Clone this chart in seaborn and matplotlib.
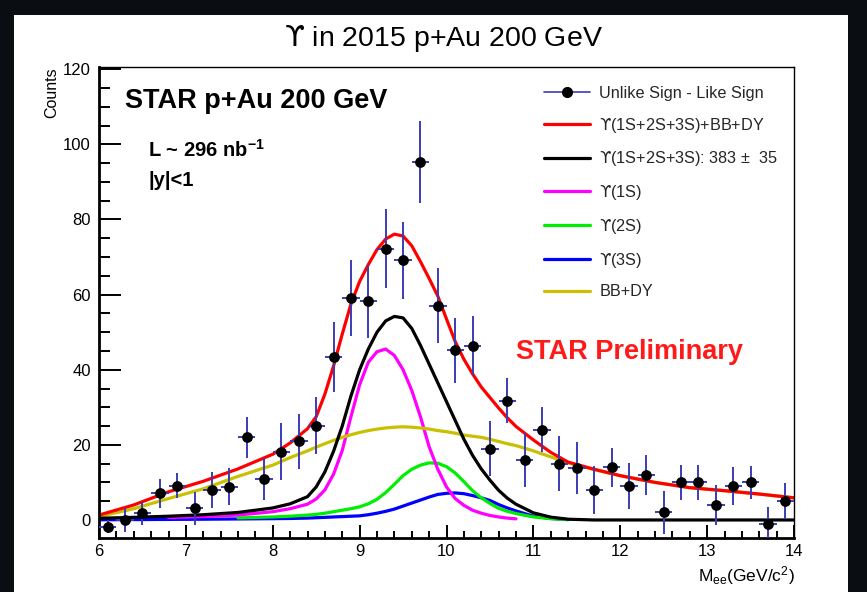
import matplotlib
matplotlib.use("Agg")
import matplotlib.pyplot as plt
from matplotlib.lines import Line2D
from matplotlib.patches import Rectangle
from matplotlib.ticker import MultipleLocator
import pandas as pd
import seaborn as sns

# bin centres (GeV/c^2) and unlike-sign minus like-sign counts
mass_bins = [6.1, 6.3, 6.5, 6.7, 6.9, 7.1, 7.3, 7.5, 7.7, 7.9,
             8.1, 8.3, 8.5, 8.7, 8.9, 9.1, 9.3, 9.5, 9.7, 9.9,
             10.1, 10.3, 10.5, 10.7, 10.9, 11.1, 11.3, 11.5, 11.7, 11.9,
             12.1, 12.3, 12.5, 12.7, 12.9, 13.1, 13.3, 13.5, 13.7, 13.9]
counts = [-1.8, 0.0, 1.8, 7.1, 9.1, 3.1, 8.0, 8.9, 22.0, 11.0,
          18.2, 20.9, 25.1, 43.4, 59.1, 58.2, 72.2, 69.1, 95.4, 57.1,
          45.2, 46.4, 19.0, 31.7, 16.0, 24.0, 15.0, 13.9, 8.0, 14.0,
          9.0, 12.0, 2.0, 10.0, 10.0, 4.0, 9.0, 10.0, -1.0, 5.0]
count_err = [1.8, 3.3, 3.1, 3.9, 3.3, 4.4, 4.7, 4.9, 5.5, 5.6,
             7.6, 7.3, 7.6, 9.2, 10.2, 9.7, 10.5, 10.2, 10.9, 10.0,
             8.7, 7.8, 7.3, 6.0, 7.1, 6.0, 7.4, 6.9, 6.4, 5.1,
             6.2, 5.3, 5.8, 4.6, 4.6, 5.3, 5.0, 4.3, 4.5, 4.8]
bin_half = 0.1

# fit curves
fit_x = [6.0, 6.4, 6.8, 7.2, 7.6, 8.0, 8.2, 8.4,
         8.5, 8.6, 8.7, 8.8, 8.9, 9.0, 9.1, 9.2, 9.3, 9.4, 9.5, 9.6,
         9.7, 9.8, 9.9, 10.0, 10.1, 10.2, 10.3, 10.4, 10.5, 10.6, 10.7, 10.8,
         11.0, 11.2, 11.4, 11.7, 12.0, 12.4, 12.8, 13.2, 13.6, 14.0]
fit_total = [1.3, 4.0, 7.5, 10.3, 13.6, 17.5, 20.5, 24.3,
             27.5, 33.5, 41.0, 49.5, 57.5, 63.5, 68.0, 72.0, 74.8, 76.1, 75.6, 73.0,
             68.8, 64.3, 59.6, 53.5, 47.5, 42.8, 38.9, 35.4, 32.6, 29.8, 27.2, 24.9,
             21.3, 18.0, 15.4, 13.5, 11.8, 10.0, 8.6, 7.8, 6.9, 5.9]
fit_signal = [0.45, 0.7, 1.0, 1.4, 2.0, 3.2, 4.3, 6.2,
              8.8, 12.8, 18.3, 25.0, 33.0, 40.0, 45.5, 50.0, 53.0, 54.2, 53.8, 51.0,
              46.5, 41.5, 36.5, 31.5, 26.5, 21.5, 17.2, 13.6, 10.6, 7.9, 5.8, 4.2,
              1.9, 0.75, 0.2, 0.0, 0.0, 0.0, 0.0, 0.0, 0.0, 0.0]
fit_bbdy = [0.9, 3.0, 5.7, 8.3, 11.6, 14.6, 16.6, 18.4,
            19.4, 20.3, 21.2, 22.0, 22.7, 23.3, 23.8, 24.2, 24.5, 24.7, 24.8, 24.7,
            24.5, 24.2, 23.8, 23.5, 23.1, 22.6, 22.3, 22.0, 21.5, 20.9, 20.3, 19.8,
            18.4, 16.8, 15.2, 13.4, 11.8, 10.0, 8.6, 7.8, 6.9, 5.9]
x_1s = fit_x[2:32]
fit_1s = [0.65, 0.9, 1.3, 2.2, 3.0, 4.2,
          5.6, 8.0, 12.2, 18.5, 27.5, 36.0, 42.0, 44.8, 45.5, 43.8, 40.0, 34.5,
          27.5, 19.5, 13.5, 8.8, 5.7, 3.9, 2.6, 1.8, 1.2, 0.8, 0.5, 0.3]
x_2s = fit_x[4:35]
fit_2s = [0.55, 0.8, 1.0, 1.3,
          1.5, 1.8, 2.2, 2.6, 3.0, 3.5, 4.3, 5.5, 7.3, 9.5, 11.8, 13.5,
          14.6, 15.2, 15.1, 14.2, 12.5, 10.2, 7.8, 5.9, 4.4, 3.1, 2.3, 1.7,
          0.8, 0.35, 0.1]
x_3s = fit_x[0:35]
fit_3s = [0.05, 0.1, 0.15, 0.2, 0.27, 0.35, 0.4, 0.5,
          0.6, 0.7, 0.8, 0.9, 1.0, 1.1, 1.4, 1.8, 2.3, 2.9, 3.7, 4.5,
          5.3, 6.1, 6.8, 7.1, 7.2, 7.0, 6.5, 5.9, 5.2, 4.1, 3.2, 2.4,
          1.0, 0.4, 0.1]

UPS = '$\\mathsf{\u03d2}$'
labels = ["Unlike Sign - Like Sign",
          UPS + "(1S+2S+3S)+BB+DY",
          UPS + "(1S+2S+3S): 383 \u00b1  35",
          UPS + "(1S)",
          UPS + "(2S)",
          UPS + "(3S)",
          "BB+DY"]

sns.set_theme(style="white")
plt.rcParams['font.family'] = ['Liberation Sans', 'DejaVu Sans']
plt.rcParams['mathtext.fontset'] = 'custom'
plt.rcParams['mathtext.rm'] = 'Liberation Sans'
plt.rcParams['mathtext.it'] = 'Liberation Sans:italic'
plt.rcParams['mathtext.bf'] = 'Liberation Sans:bold'
plt.rcParams['mathtext.sf'] = 'DejaVu Sans'

W, H = 867, 592


def fx(px):
    return px / W


def fy(py):
    return 1 - py / H


fig = plt.figure(figsize=(W / 100, H / 100), dpi=100, facecolor='#0a0d12')
fig.patches.append(Rectangle((fx(14), 0), fx(848) - fx(14), fy(15),
                             transform=fig.transFigure, facecolor='white',
                             edgecolor='none', zorder=-10))
ax = fig.add_axes([fx(99), fy(538), fx(794) - fx(99), fy(67) - fy(538)])
ax.set_zorder(2)
ax.set_facecolor('white')

curves = [
    (x_3s, fit_3s, '#0000ff'),
    (x_2s, fit_2s, '#00ee00'),
    (x_1s, fit_1s, '#ff00ff'),
    (fit_x, fit_bbdy, '#c8c000'),
    (fit_x, fit_signal, 'black'),
    (fit_x, fit_total, '#ff0000'),
]
for xs, ys, col in curves:
    df = pd.DataFrame({'mass': xs, 'val': ys})
    sns.lineplot(data=df, x='mass', y='val', color=col, linewidth=2.3,
                 estimator=None, ax=ax, zorder=2)

err_col = '#3b3bb5'
ax.errorbar(mass_bins, counts, yerr=count_err, xerr=bin_half, fmt='none',
            ecolor=err_col, elinewidth=1.4, capsize=0, zorder=3)
pts = pd.DataFrame({'mass': mass_bins, 'counts': counts})
sns.scatterplot(data=pts, x='mass', y='counts', color='black', s=60,
                linewidth=0, ax=ax, zorder=4)

ax.set_xlim(6, 14)
ax.set_ylim(-4.8, 120.6)
ax.set_xlabel('')
ax.set_ylabel('')
ax.xaxis.set_major_locator(MultipleLocator(1))
ax.xaxis.set_minor_locator(MultipleLocator(0.2))
ax.yaxis.set_major_locator(MultipleLocator(20))
ax.yaxis.set_minor_locator(MultipleLocator(5))
ax.tick_params(axis='both', which='both', direction='in', top=False,
               right=False, bottom=True, left=True, colors='black',
               labelsize=12, width=1.4)
ax.tick_params(axis='y', which='major', length=16, pad=6)
ax.tick_params(axis='y', which='minor', length=8)
ax.tick_params(axis='x', which='major', length=9.5, pad=4)
ax.tick_params(axis='x', which='minor', length=5)
for side in ['left', 'bottom']:
    ax.spines[side].set_linewidth(2.0)
    ax.spines[side].set_color('black')
for side in ['top', 'right']:
    ax.spines[side].set_linewidth(1.0)
    ax.spines[side].set_color('black')

handles = [
    Line2D([], [], color=err_col, lw=1.2, marker='o', markersize=7,
           markerfacecolor='black', markeredgecolor='black'),
    Line2D([], [], color='#ff0000', lw=2.3),
    Line2D([], [], color='black', lw=2.3),
    Line2D([], [], color='#ff00ff', lw=2.3),
    Line2D([], [], color='#00ee00', lw=2.3),
    Line2D([], [], color='#0000ff', lw=2.3),
    Line2D([], [], color='#c8c000', lw=2.3),
]
leg = fig.legend(handles, labels, loc='upper left',
                 bbox_to_anchor=(fx(544), fy(86)), frameon=False, fontsize=11.7,
                 handlelength=2.85, handletextpad=0.55, labelspacing=0.905,
                 borderpad=0, borderaxespad=0)
leg.set_zorder(5)

fig.text(fx(443), fy(38), UPS + ' in 2015 p+Au 200 GeV', ha='center',
         va='center', fontsize=20.5, color='black')
fig.text(fx(52), fy(67), 'Counts', rotation=90, ha='center', va='top',
         fontsize=11.5, color='black')
fig.text(fx(795), fy(576), r'M$_{\rm ee}$(GeV/c$^{2}$)', ha='right',
         va='center', fontsize=12.5, color='black')

fig.text(fx(125), fy(101), 'STAR p+Au 200 GeV', ha='left', va='center',
         fontsize=19.5, fontweight='bold', color='black', zorder=5)
fig.text(fx(148), fy(150), r'L ~ 296 nb$^{\mathbf{-1}}$', ha='left',
         va='center', fontsize=14.5, fontweight='bold', color='black', zorder=5)
fig.text(fx(148), fy(180), '|y|<1', ha='left', va='center',
         fontsize=14.5, fontweight='bold', color='black', zorder=5)
fig.text(fx(516), fy(352), 'STAR Preliminary', ha='left', va='center',
         fontsize=19.5, fontweight='bold', color='#ff1a1a', zorder=5)

fig.savefig('out.png', dpi=100, facecolor=fig.get_facecolor())
